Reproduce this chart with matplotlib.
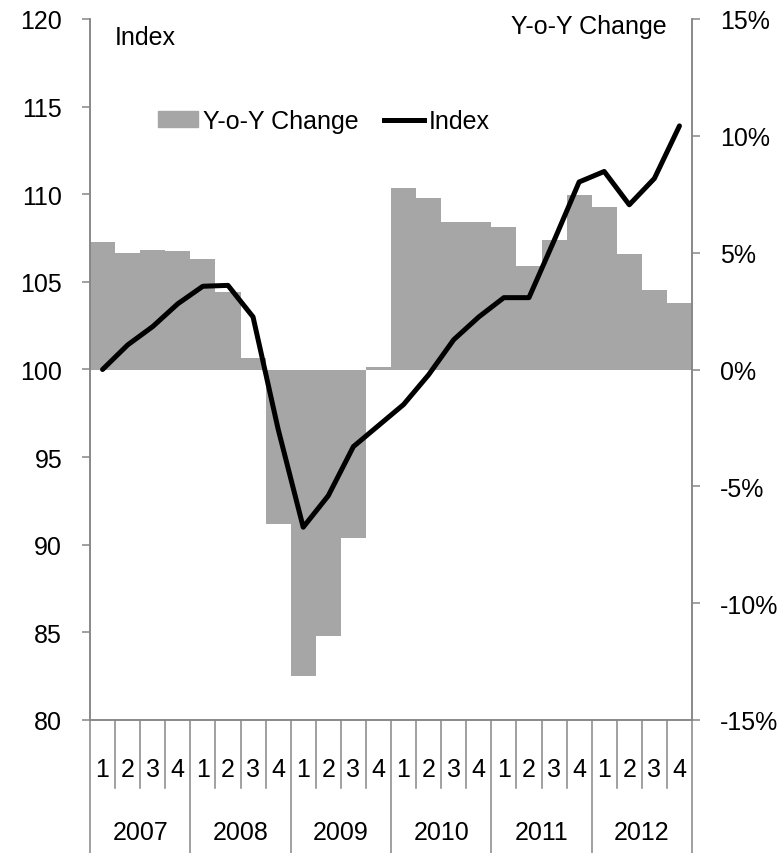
import numpy as np
import matplotlib.pyplot as plt
from matplotlib.patches import Patch
from matplotlib.lines import Line2D

years = ['2007', '2008', '2009', '2010', '2011', '2012']
quarters = ['1', '2', '3', '4']

# year-on-year change, %
yoy = [5.45, 5.0, 5.1, 5.05, 4.75, 3.3, 0.5, -6.6,
       -13.1, -11.4, -7.2, 0.1, 7.75, 7.35, 6.3, 6.3,
       6.1, 4.45, 5.55, 7.45, 6.95, 4.95, 3.4, 2.85]
# index level
index = [100.0, 101.4, 102.45, 103.75, 104.75, 104.8, 103.0, 96.6,
         91.0, 92.8, 95.6, 96.8, 98.0, 99.7, 101.7, 103.0,
         104.1, 104.1, 107.35, 110.7, 111.3, 109.4, 110.9, 113.9]

plt.rcParams['font.family'] = ['Liberation Sans', 'DejaVu Sans']
plt.rcParams['font.size'] = 18

grey = '#868686'
x = np.arange(len(yoy))

fig = plt.figure(figsize=(7.77, 8.54), dpi=100)
ax = fig.add_axes([90 / 777, 1 - 721 / 854, 602 / 777, 701 / 854])

# bars on the pct axis (right side)
ax.bar(x, yoy, width=1.0, color='#a6a6a6', zorder=1)
ax.set_ylim(-15, 15)
ax.set_xlim(-0.5, len(yoy) - 0.5)
ax.set_xticks([])

# index line on the left axis
ax2 = ax.twinx()
ax2.plot(x, index, color='black', lw=3.6, solid_capstyle='round', zorder=3)
ax2.set_ylim(80, 120)
ax2.set_yticks(np.arange(80, 121, 5))
ax2.yaxis.tick_left()

ax.yaxis.tick_right()
ax.set_yticks(np.arange(-15, 16, 5))
ax.set_yticklabels([f'{v}%' for v in range(-15, 16, 5)])

for a in (ax, ax2):
    for s in a.spines.values():
        s.set_color(grey)
        s.set_linewidth(1.1)
    a.spines['top'].set_visible(False)
    a.tick_params(axis='y', length=6, width=1.1, color=grey, pad=14,
                  labelsize=18)

# extend side spines down through the category area
for xs in (-0.5, len(yoy) - 0.5):
    ax.plot([xs, xs], [0, -133 / 701], color=grey, lw=1.1,
            transform=ax.get_xaxis_transform(), clip_on=False)

# category separators and labels
trans = ax.get_xaxis_transform()
for i in range(1, len(yoy)):
    bottom = -133 / 701 if i % 4 == 0 else -68 / 701
    ax.plot([i - 0.5, i - 0.5], [0, bottom], color=grey, lw=1.1,
            transform=trans, clip_on=False)
for i in range(len(yoy)):
    ax.text(i, -49 / 701, quarters[i % 4], ha='center', va='center',
            transform=trans, fontsize=18)
for j, yr in enumerate(years):
    ax.text(j * 4 + 1.5, -112 / 701, yr, ha='center', va='center',
            transform=trans, fontsize=18)

# axis captions
fig.text(115 / 777, 1 - 38 / 854, 'Index', ha='left', va='center', fontsize=18)
fig.text(667 / 777, 1 - 27 / 854, 'Y-o-Y Change', ha='right', va='center',
         fontsize=18)

handles = [Patch(color='#a6a6a6', label='Y-o-Y Change'),
           Line2D([], [], color='black', lw=3.6, label='Index')]
fig.legend(handles=handles, loc='center left', ncol=2, frameon=False,
           bbox_to_anchor=(158 / 777, 1 - 122 / 854), borderaxespad=0,
           borderpad=0, handlelength=1.6, handleheight=0.6,
           handletextpad=0.2, columnspacing=1.0, fontsize=18)

fig.savefig('out.png', dpi=100)
